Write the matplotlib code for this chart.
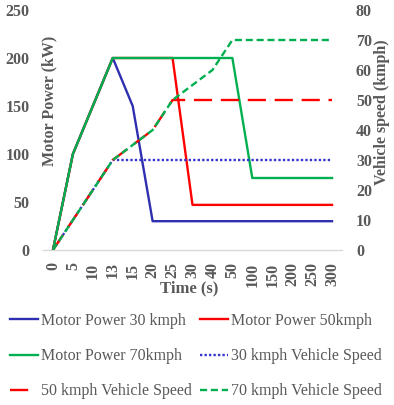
import matplotlib
matplotlib.use("Agg")
import matplotlib.pyplot as plt
from matplotlib.lines import Line2D
import numpy as np

time_labels = ["0", "5", "10", "13", "15", "20", "25", "30", "40", "50",
               "100", "150", "200", "250", "300"]
power_30 = [0, 100, 150, 200, 150, 30, 30, 30, 30, 30, 30, 30, 30, 30, 30]
power_50 = [0, 100, 150, 200, 200, 200, 200, 47, 47, 47, 47, 47, 47, 47, 47]
power_70 = [0, 100, 150, 200, 200, 200, 200, 200, 200, 200, 75, 75, 75, 75, 75]
speed_30 = [0, 10, 20, 30, 30, 30, 30, 30, 30, 30, 30, 30, 30, 30, 30]
speed_50 = [0, 10, 20, 30, 35, 40, 50, 50, 50, 50, 50, 50, 50, 50, 50]
speed_70 = [0, 10, 20, 30, 35, 40, 50, 55, 60, 70, 70, 70, 70, 70, 70]

BLUE = "#2E2EB0"
RED = "#FF0000"
GREEN = "#00B050"
DOT = "#3535D0"
TXT = "#595959"
FONT = "Liberation Serif"

plt.rcParams["font.family"] = [FONT, "DejaVu Serif"]

W, H = 394, 405
fig = plt.figure(figsize=(W / 100, H / 100), dpi=100)
ax = fig.add_axes([43 / W, 1 - 250 / H, (342 - 43) / W, (250 - 10) / H])
ax2 = ax.twinx()

x = np.arange(len(time_labels))
lw = 1.7
h1, = ax.plot(x, power_30, color=BLUE, lw=lw, label="Motor Power 30 kmph", zorder=2)
h2, = ax.plot(x, power_50, color=RED, lw=lw, label="Motor Power 50kmph", zorder=3)
h3, = ax.plot(x, power_70, color=GREEN, lw=lw, label="Motor Power 70kmph", zorder=4)
h4, = ax2.plot(x, speed_30, color=DOT, lw=lw, dashes=(1, 0.9), label="30 kmph Vehicle Speed", zorder=2)
h5, = ax2.plot(x, speed_50, color=RED, lw=lw, dashes=(7.7, 3.7), label="50 kmph Vehicle Speed", zorder=3)
h6, = ax2.plot(x, speed_70, color=GREEN, lw=lw, dashes=(3, 1.6), label="70 kmph Vehicle Speed", zorder=4)
h5_leg = Line2D([], [], color=RED, lw=lw, dashes=(7.7, 4.5), label=h5.get_label())

ax.set_xlim(-0.5, len(time_labels) - 0.5)
ax.set_ylim(0, 250)
ax2.set_ylim(0, 80)
ax.set_yticks([0, 50, 100, 150, 200, 250])
ax2.set_yticks([0, 10, 20, 30, 40, 50, 60, 70, 80])
ax.set_xticks(x)
ax.set_xticklabels(time_labels, rotation=90)

for a in (ax, ax2):
    for s in a.spines.values():
        s.set_visible(False)
    a.tick_params(length=0, colors=TXT, labelsize=11.5)
ax.spines["bottom"].set_visible(True)
ax.spines["bottom"].set_color("#D9D9D9")
ax.spines["bottom"].set_linewidth(1.0)
ax.tick_params(axis="y", pad=9.5)
ax2.tick_params(axis="y", pad=10)
ax.tick_params(axis="x", pad=9)
for lab in ax.get_yticklabels() + ax2.get_yticklabels() + ax.get_xticklabels():
    lab.set_fontweight("bold")
    lab.set_color(TXT)

fig.text(49 / W, 1 - 101 / H, "Motor Power (kW)", rotation=90, ha="center", va="center",
         fontsize=11.5, fontweight="bold", color=TXT)
fig.text(382 / W, 1 - 112 / H, "Vehicle speed (kmph)", rotation=90, ha="center", va="center",
         fontsize=11.5, fontweight="bold", color=TXT)
fig.text(189 / W, 1 - 288 / H, "Time (s)", ha="center", va="center",
         fontsize=12, fontweight="bold", color=TXT)

handles = [h1, h3, h5_leg, h2, h4, h6]
leg = fig.legend(handles=handles, labels=[h.get_label() for h in handles], ncol=2,
                 loc="upper left", bbox_to_anchor=(10 / W, 1 - 313 / H), frameon=False,
                 fontsize=11.5, handlelength=1.75, handletextpad=0.2, columnspacing=0.5,
                 labelspacing=1.2, borderpad=0, borderaxespad=0)
for t in leg.get_texts():
    t.set_color(TXT)

fig.savefig("out.png", dpi=100)
